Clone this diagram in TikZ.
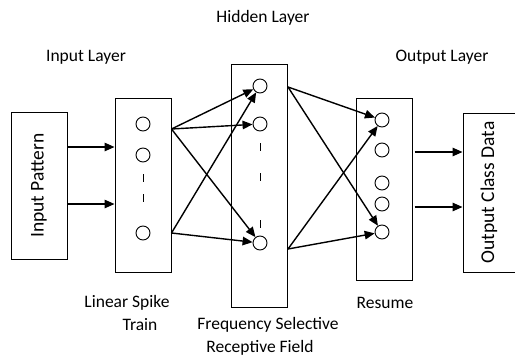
\documentclass[tikz,border=0pt]{standalone}
\usepackage{fontspec}
\setmainfont{Carlito}
\usetikzlibrary{arrows.meta}
\begin{document}
\begin{tikzpicture}[x=1pt,y=-1pt,
    font=\fontsize{17.5}{20}\selectfont,
    box/.style={draw,line width=1pt,inner sep=0pt},
    neuron/.style={circle,draw,line width=0.9pt,minimum size=14pt,inner sep=0pt},
    link/.style={-{Triangle[length=10pt,width=8.5pt]},line width=1.4pt},
    tick/.style={line width=1pt}]
  \useasboundingbox (0,0) rectangle (515,356);
  % the five boxes
  \node[box,minimum width=56,minimum height=147] (pattern) at (39,185.5) {};
  \node[box,minimum width=56,minimum height=174] (spike) at (143,185) {};
  \node[box,minimum width=56,minimum height=243] (hidden) at (259.5,185.5) {};
  \node[box,minimum width=56,minimum height=182] (resume) at (384,189) {};
  \node[box,minimum width=52,minimum height=159] (output) at (489,192.5) {};
  \node[rotate=90,font=\fontsize{19.5}{22}\selectfont] at (pattern) {Input Pattern};
  \node[rotate=90,font=\fontsize{19.5}{22}\selectfont] at (output) {Output Class Data};
  % neurons
  \node[neuron] (s1) at (143,124) {};
  \node[neuron] (s2) at (143,155) {};
  \node[neuron] (s3) at (143,233) {};
  \node[neuron] (h1) at (260,86) {};
  \node[neuron] (h2) at (260,124) {};
  \node[neuron] (h3) at (260,243) {};
  \foreach \y [count=\i] in {120,150,183,204,232}
    \node[neuron] (r\i) at (382,\y) {};
  % dots between neurons
  \foreach \y in {178,198}
    \draw[tick] (143,\y-4) -- (143,\y+4);
  \foreach \y in {147,177,224}
    \draw[tick] (260,\y-4) -- (260,\y+4);
  % connections
  \foreach \y in {147,204}
    \draw[link] (pattern.east |- 0,\y) -- (spike.west |- 0,\y);
  \coordinate (sa) at (spike.east |- 0,129);
  \coordinate (sb) at (spike.east |- 0,233);
  \foreach \n in {h1,h2,h3}
    \draw[link] (sa) -- (\n);
  \foreach \n in {h1,h3}
    \draw[link] (sb) -- (\n);
  \coordinate (ha) at (hidden.east |- 0,87);
  \coordinate (hb) at (hidden.east |- 0,249);
  \foreach \s in {ha,hb}
    \foreach \n in {r1,r5}
      \draw[link] (\s) -- (\n);
  \foreach \y in {152,207}
    \draw[link] ([xshift=2pt]resume.east |- 0,\y) -- (output.west |- 0,\y);
  % layer captions
  \node (hl) at (263,18) {Hidden Layer};
  \node (il) at (86,57) {Input Layer};
  \node (ol) at (442,57) {Output Layer};
  \node (ls) at (127,303) {Linear Spike};
  \node (lt) at (140,325) {Train};
  \node (fs) at (268,325) {Frequency Selective};
  \node (rf) at (260,348) {Receptive Field};
  \node (rs) at (385,303) {Resume};
\end{tikzpicture}
\end{document}
